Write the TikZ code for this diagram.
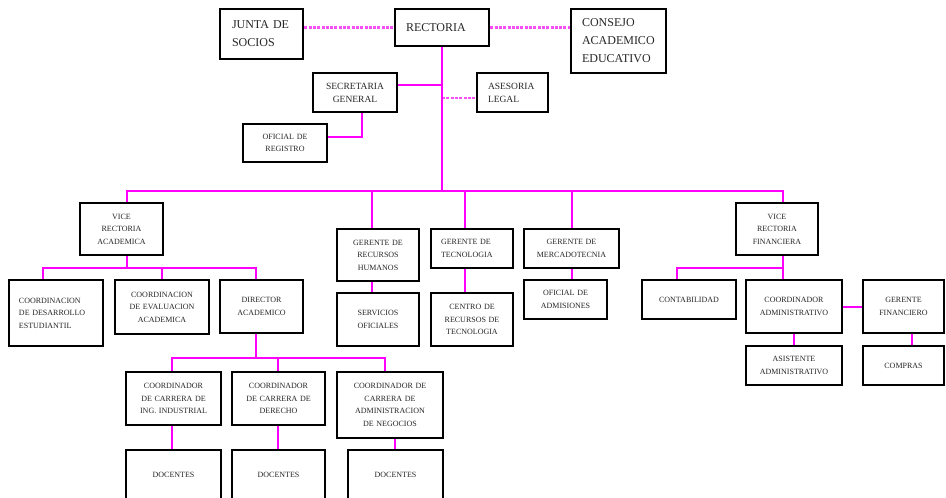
\documentclass[tikz,border=0pt]{standalone}
\usepackage{fontspec}
\setmainfont{Liberation Serif}
\pgfdeclarelayer{bg}
\pgfsetlayers{bg,main}
\definecolor{mag}{RGB}{255,0,255}
\definecolor{magl}{RGB}{245,80,245}
\tikzset{
  box/.style={draw=black, line width=2.6pt, fill=white, text=black!85, inner sep=0pt},
  pk/.style={draw=mag, line width=2.8pt},
  pkd/.style={draw=magl, line width=2.6pt, dash pattern=on 3pt off 1.3pt},
  big/.style={font=\fontsize{12}{18}\selectfont},
  mid/.style={font=\fontsize{9.5}{13}\selectfont},
  sml/.style={font=\fontsize{8}{12.5}\selectfont},
}
% name, x1, y1, x2, y2, options, align, text
\newcommand\bx[8]{\node[box, align=#7, minimum width={#4-#2}, minimum height={#5-#3}, text width={#4-#2-16}, #6] (#1) at ({(#2+#4)/2},{(#3+#5)/2}) {#8};}
\begin{document}
\begin{tikzpicture}[x=1pt, y=-1pt]
\useasboundingbox (0,0) rectangle (946,498);
\clip (0,0) rectangle (946,498);

% top level
\bx{junta}{220}{9}{303}{59}{big, text width=59}{left}{JUNTA DE\\SOCIOS}
\bx{rect}{395}{9}{489}{46}{big, text width=72}{left}{RECTORIA}
\bx{consejo}{571}{9}{666}{73}{big, text width=73}{left}{CONSEJO\\ACADEMICO\\EDUCATIVO}
\bx{sec}{313}{73}{397}{112}{mid}{center}{SECRETARIA\\GENERAL}
\bx{ase}{477}{73}{548}{112}{mid, text width=49}{left}{ASESORIA\\LEGAL}
\bx{ofr}{243}{124}{327}{162}{sml}{center}{OFICIAL DE\\REGISTRO}

% second level
\bx{vra}{80}{203}{163}{255}{sml}{center}{VICE\\RECTORIA\\ACADEMICA}
\bx{grh}{337}{229}{419}{281}{sml}{center}{GERENTE DE\\RECURSOS\\HUMANOS}
\bx{gt}{431}{229}{513}{268}{sml, text width=62}{left}{GERENTE DE\\TECNOLOGIA}
\bx{gm}{524}{229}{619}{268}{sml}{center}{GERENTE DE\\MERCADOTECNIA}
\bx{vrf}{736}{203}{818}{255}{sml}{center}{VICE\\RECTORIA\\FINANCIERA}

% third level
\bx{cde}{9}{280}{103}{346}{sml, text width=74}{left}{COORDINACION\\DE DESARROLLO\\ESTUDIANTIL}
\bx{cea}{115}{280}{209}{334}{sml}{center}{COORDINACION\\DE EVALUACION\\ACADEMICA}
\bx{dir}{220}{280}{303}{333}{sml}{center}{DIRECTOR\\ACADEMICO}
\bx{so}{337}{293}{419}{346}{sml}{center}{SERVICIOS\\OFICIALES}
\bx{crt}{431}{293}{513}{346}{sml}{center}{CENTRO DE\\RECURSOS DE\\TECNOLOGIA}
\bx{oa}{524}{280}{607}{319}{sml}{center}{OFICIAL DE\\ADMISIONES}
\bx{cont}{642}{280}{736}{319}{sml}{center}{CONTABILIDAD}
\bx{ca}{746}{280}{842}{333}{sml, text width=90}{center}{COORDINADOR\\ADMINISTRATIVO}
\bx{gf}{863}{280}{944}{333}{sml}{center}{GERENTE\\FINANCIERO}
\bx{aa}{746}{346}{842}{385}{sml, text width=90}{center}{ASISTENTE\\ADMINISTRATIVO}
\bx{comp}{863}{346}{944}{385}{sml}{center}{COMPRAS}

% fourth level
\bx{c1}{126}{372}{221}{425}{sml, text width=90}{center}{COORDINADOR\\DE CARRERA DE\\ING. INDUSTRIAL}
\bx{c2}{232}{372}{325}{425}{sml, text width=88}{center}{COORDINADOR\\DE CARRERA DE\\DERECHO}
\bx{c3}{337}{372}{443}{438}{sml, text width=100}{center}{COORDINADOR DE\\CARRERA DE\\ADMINISTRACION\\DE NEGOCIOS}
\bx{d1}{126}{450}{221}{500}{sml}{center}{DOCENTES}
\bx{d2}{232}{450}{325}{500}{sml}{center}{DOCENTES}
\bx{d3}{348}{450}{443}{500}{sml}{center}{DOCENTES}

% junction points
\coordinate (t1) at (442,191);
\coordinate (t2) at (442,85);
\coordinate (t3) at (442,98);
\coordinate (r1) at (362,137);
\coordinate (b1) at (127,191);
\coordinate (b2) at (372,191);
\coordinate (b3) at (465,191);
\coordinate (b4) at (572,191);
\coordinate (b5) at (783,191);
\coordinate (a1) at (43,268);
\coordinate (a2) at (162,268);
\coordinate (a3) at (256,268);
\coordinate (a0) at (127,268);
\coordinate (e1) at (172,358);
\coordinate (e2) at (278,358);
\coordinate (e3) at (385,358);
\coordinate (e0) at (256,358);
\coordinate (f1) at (677,268);
\coordinate (f2) at (783,268);
\coordinate (g1) at (794,340);
\coordinate (g2) at (912,340);
\coordinate (h1) at (395,444);
\coordinate (gy) at (850,307);

\begin{pgfonlayer}{bg}
% top dotted links
\draw[pkd] (junta.east |- rect.west) -- (rect.west);
\draw[pkd] (rect.east) -- (consejo.west |- rect.east);
\draw[pkd] (t3) -- (ase.west |- t3);
% trunk and bus
\draw[pk] (rect.south -| t1) -- (t1);
\draw[pk] (vra.north -| b1) -- (b1) -- (b5) -- (vrf.north -| b5);
\draw[pk] (sec.east |- t2) -- (t2);
\draw[pk] (sec.south -| r1) -- (r1) -- (ofr.east |- r1);
\draw[pk] (b2) -- (grh.north -| b2);
\draw[pk] (b3) -- (gt.north -| b3);
\draw[pk] (b4) -- (gm.north -| b4);
% academic branch
\draw[pk] (vra.south -| a0) -- (a0);
\draw[pk] (cde.north -| a1) -- (a1) -- (a3) -- (dir.north -| a3);
\draw[pk] (a2) -- (cea.north -| a2);
\draw[pk] (dir.south -| e0) -- (e0);
\draw[pk] (c1.north -| e1) -- (e1) -- (e3) -- (c3.north -| e3);
\draw[pk] (e2) -- (c2.north -| e2);
\draw[pk] (c1.south -| e1) -- (d1.north -| e1);
\draw[pk] (c2.south -| e2) -- (d2.north -| e2);
\draw[pk] (c3.south -| h1) -- (d3.north -| h1);
% managers
\draw[pk] (grh.south -| b2) -- (so.north -| b2);
\draw[pk] (gt.south -| b3) -- (crt.north -| b3);
\draw[pk] (gm.south -| b4) -- (oa.north -| b4);
% financial branch
\draw[pk] (vrf.south -| f2) -- (ca.north -| f2);
\draw[pk] (f2) -- (f1) -- (cont.north -| f1);
\draw[pk] (ca.east |- gy) -- (gf.west |- gy);
\draw[pk] (ca.south -| g1) -- (aa.north -| g1);
\draw[pk] (gf.south -| g2) -- (comp.north -| g2);
\end{pgfonlayer}
\end{tikzpicture}
\end{document}
